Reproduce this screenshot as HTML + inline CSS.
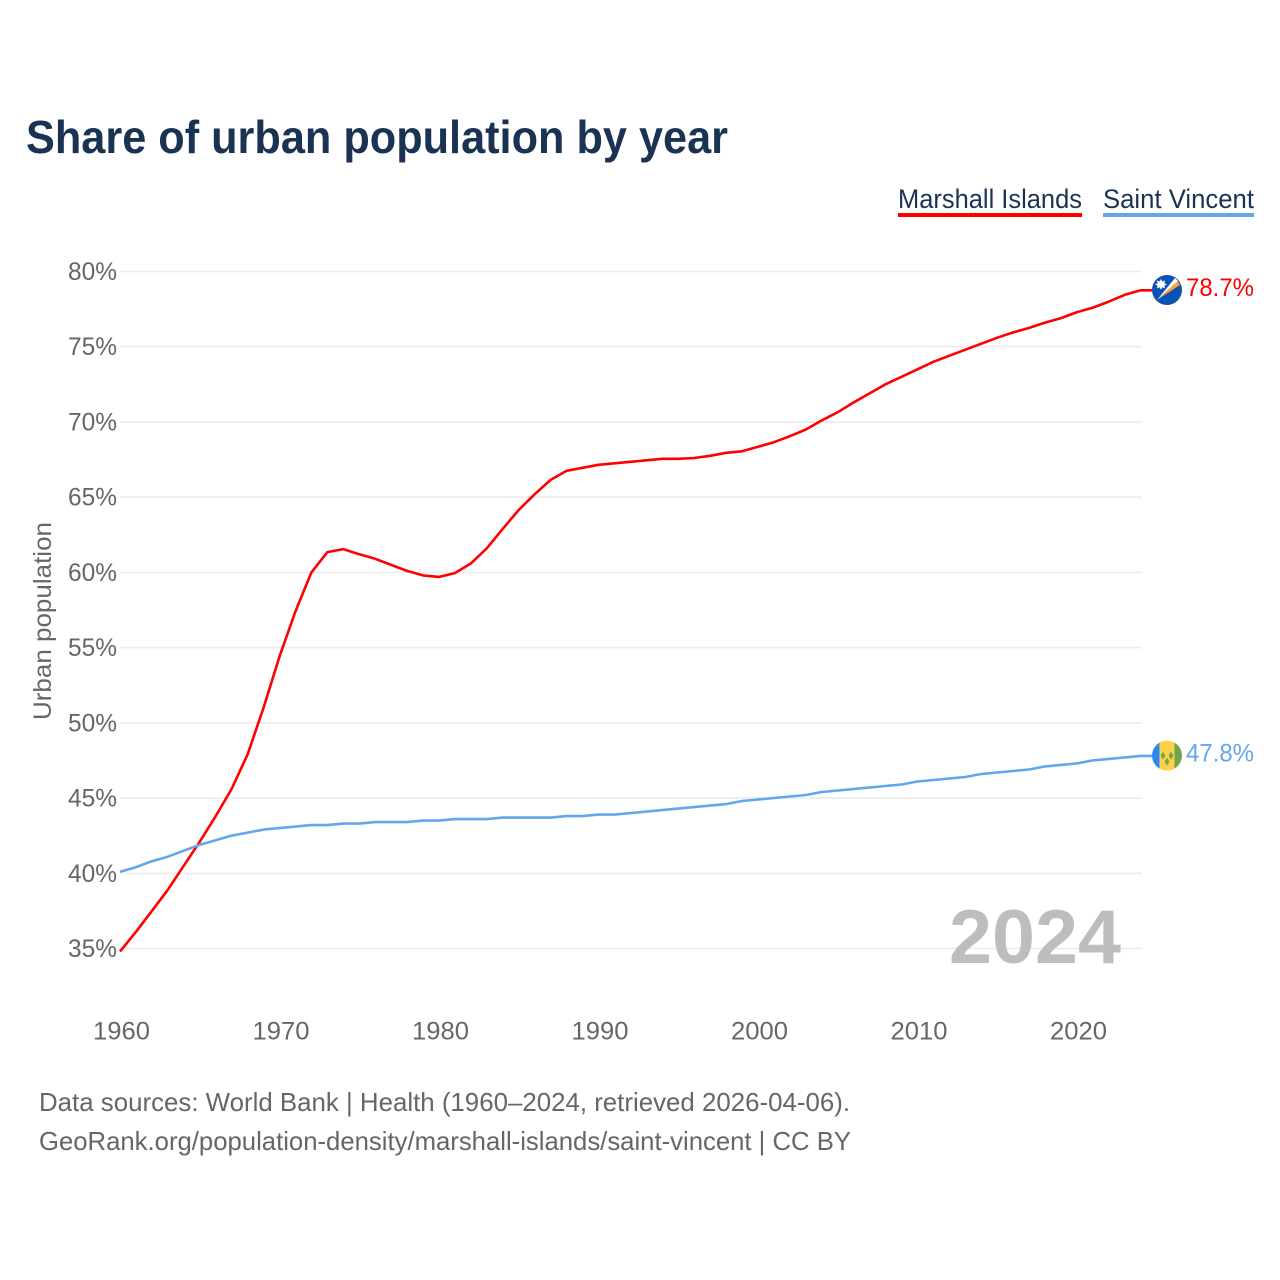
<!DOCTYPE html>
<html lang="en">
<head>
<meta charset="utf-8">
<title>Share of urban population by year</title>
<style>
html,body{margin:0;padding:0;background:#fff;}
svg{display:block;}
text{font-family:"Liberation Sans",sans-serif;}
</style>
</head>
<body>
<svg id="chart" width="1280" height="1280" viewBox="0 0 1280 1280" xmlns="http://www.w3.org/2000/svg">
  <defs>
    <clipPath id="flag-clip"><circle cx="0" cy="0" r="15"></circle></clipPath>
  </defs>
  <rect width="1280" height="1280" fill="#ffffff"></rect>
  <text x="26" y="153" font-size="46" font-weight="700" fill="#1a3353" textLength="702" lengthAdjust="spacingAndGlyphs">Share of urban population by year</text>

  <g>
    <text x="898" y="208" font-size="26.5" fill="#1a3353" textLength="184" lengthAdjust="spacingAndGlyphs">Marshall Islands</text>
    <rect x="898" y="213" width="184" height="4" fill="#ff0000"></rect>
  </g>
  <g>
    <text x="1103" y="208" font-size="26.5" fill="#1a3353" textLength="151" lengthAdjust="spacingAndGlyphs">Saint Vincent</text>
    <rect x="1103" y="213" width="151" height="4" fill="#64a6ec"></rect>
  </g>

  <g id="grid"></g>
  <g id="y-ticks"></g>
  <g id="x-ticks"></g>

  <text transform="translate(51,621) rotate(-90)" text-anchor="middle" font-size="25" fill="#666666" textLength="198" lengthAdjust="spacingAndGlyphs">Urban population</text>

  <text x="949" y="963" font-size="76" font-weight="700" fill="#bdbdbd" textLength="172" lengthAdjust="spacingAndGlyphs">2024</text>

  <polyline id="line-marshall" fill="none" stroke="#ff0000" stroke-width="2.6" stroke-linejoin="round"></polyline>
  <polyline id="line-vincent" fill="none" stroke="#64a6ec" stroke-width="2.6" stroke-linejoin="round"></polyline>

  <g id="flag-marshall">
    <g clip-path="url(#flag-clip)">
      <rect x="-15" y="-15" width="30" height="30" fill="#0b52b5"></rect>
      <polygon points="-10,10 8,-12 11,-9" fill="#ffffff"></polygon>
      <polygon points="-10,10 11,-9 13,-5" fill="#f9a233"></polygon>
      <polygon points="-6,-11 -4.6,-8.4 -2,-9.6 -2.6,-6.6 0,-5.6 -2.6,-4.4 -2,-1.6 -4.6,-2.8 -6,-0.2 -7.4,-2.8 -10,-1.6 -9.4,-4.4 -12,-5.6 -9.4,-6.6 -10,-9.6 -7.4,-8.4" fill="#ffffff"></polygon>
    </g>
  </g>
  <g id="flag-vincent">
    <g clip-path="url(#flag-clip)">
      <rect x="-15" y="-15" width="8" height="30" fill="#2f86f0"></rect>
      <rect x="-7.5" y="-15" width="15" height="30" fill="#fdd24a"></rect>
      <rect x="7.5" y="-15" width="8" height="30" fill="#6fa648"></rect>
      <polygon points="-4,-4 -1.6,0 -4,4 -6.4,0" fill="#6fa648"></polygon>
      <polygon points="4,-4 6.4,0 4,4 1.6,0" fill="#6fa648"></polygon>
      <polygon points="0,2 2.4,6 0,10 -2.4,6" fill="#6fa648"></polygon>
    </g>
  </g>
  <text id="value-marshall" x="1186" font-size="25" fill="#ff0000" textLength="68" lengthAdjust="spacingAndGlyphs"></text>
  <text id="value-vincent" x="1186" font-size="25" fill="#64a6ec" textLength="68" lengthAdjust="spacingAndGlyphs"></text>

  <text x="39" y="1111" font-size="26" fill="#666666" textLength="811" lengthAdjust="spacingAndGlyphs">Data sources: World Bank | Health (1960–2024, retrieved 2026-04-06).</text>
  <text x="39" y="1150" font-size="26" fill="#666666" textLength="812" lengthAdjust="spacingAndGlyphs">GeoRank.org/population-density/marshall-islands/saint-vincent | CC BY</text>
</svg>
<script>
const startYear = 1960;
const yTickValues = [35, 40, 45, 50, 55, 60, 65, 70, 75, 80];
const xTickValues = [1960, 1970, 1980, 1990, 2000, 2010, 2020];
const marshallValues = [
  34.8, 36.1, 37.5, 38.9, 40.5, 42.1, 43.8, 45.6, 47.9, 51.0,
  54.4, 57.4, 60.0, 61.35, 61.55, 61.2, 60.9, 60.5, 60.1, 59.8,
  59.7, 59.95, 60.6, 61.6, 62.9, 64.15, 65.2, 66.15, 66.75, 66.95,
  67.15, 67.25, 67.35, 67.45, 67.55, 67.55, 67.6, 67.75, 67.95, 68.05,
  68.35, 68.65, 69.05, 69.5, 70.1, 70.65, 71.3, 71.9, 72.5, 73.0,
  73.5, 74.0, 74.4, 74.8, 75.2, 75.6, 75.95, 76.25, 76.6, 76.9,
  77.3, 77.6, 78.0, 78.45, 78.75
];
const vincentValues = [
  40.1, 40.4, 40.8, 41.1, 41.5, 41.9, 42.2, 42.5, 42.7, 42.9,
  43.0, 43.1, 43.2, 43.2, 43.3, 43.3, 43.4, 43.4, 43.4, 43.5,
  43.5, 43.6, 43.6, 43.6, 43.7, 43.7, 43.7, 43.7, 43.8, 43.8,
  43.9, 43.9, 44.0, 44.1, 44.2, 44.3, 44.4, 44.5, 44.6, 44.8,
  44.9, 45.0, 45.1, 45.2, 45.4, 45.5, 45.6, 45.7, 45.8, 45.9,
  46.1, 46.2, 46.3, 46.4, 46.6, 46.7, 46.8, 46.9, 47.1, 47.2,
  47.3, 47.5, 47.6, 47.7, 47.8
];

function xScale(year) { return 120 + (year - 1960) * 15.95; }
function yScale(value) { return 271.5 + (80 - value) * 15.044; }

const SVG_NS = 'http://www.w3.org/2000/svg';
const gridGroup = document.getElementById('grid');
const yTickGroup = document.getElementById('y-ticks');
const xTickGroup = document.getElementById('x-ticks');

yTickValues.forEach(function (v) {
  const line = document.createElementNS(SVG_NS, 'line');
  
  
  line.setAttribute('x1', 120);
  line.setAttribute('x2', 1142);
  line.setAttribute('y1', yScale(v));
  line.setAttribute('y2', yScale(v));
  line.setAttribute('stroke', '#ececec');
  line.setAttribute('stroke-width', '1.6');
  gridGroup.appendChild(line);

  const label = document.createElementNS(SVG_NS, 'text');
  
  
  label.setAttribute('x', 117);
  label.setAttribute('y', yScale(v) + 8.5);
  label.setAttribute('text-anchor', 'end');
  label.setAttribute('font-size', '25');
  label.setAttribute('fill', '#666666');
  label.setAttribute('textLength', '49');
  label.setAttribute('lengthAdjust', 'spacingAndGlyphs');
  label.textContent = v + '%';
  yTickGroup.appendChild(label);
});

xTickValues.forEach(function (yr) {
  const label = document.createElementNS(SVG_NS, 'text');
  
  
  label.setAttribute('x', xScale(yr) + 1.5);
  label.setAttribute('y', 1039.5);
  label.setAttribute('text-anchor', 'middle');
  label.setAttribute('font-size', '25');
  label.setAttribute('fill', '#666666');
  label.setAttribute('textLength', '57');
  label.setAttribute('lengthAdjust', 'spacingAndGlyphs');
  label.textContent = String(yr);
  xTickGroup.appendChild(label);
});

function drawSeries(values, lineId, flagId, valueId) {
  const pts = values.map(function (v, i) {
    return xScale(startYear + i).toFixed(1) + ',' + yScale(v).toFixed(1);
  });
  const last = values[values.length - 1];
  const lastY = yScale(last);
  pts.push('1152,' + lastY.toFixed(1));
  document.getElementById(lineId).setAttribute('points', pts.join(' '));
  document.getElementById(flagId).setAttribute('transform', 'translate(1167,' + (lastY - 0.3).toFixed(1) + ')');
  const label = document.getElementById(valueId);
  label.setAttribute('y', (lastY + 5.5).toFixed(1));
  label.textContent = (Math.floor(last * 10) / 10).toFixed(1) + '%';
}

drawSeries(marshallValues, 'line-marshall', 'flag-marshall', 'value-marshall');
drawSeries(vincentValues, 'line-vincent', 'flag-vincent', 'value-vincent');
</script>
</body>
</html>
